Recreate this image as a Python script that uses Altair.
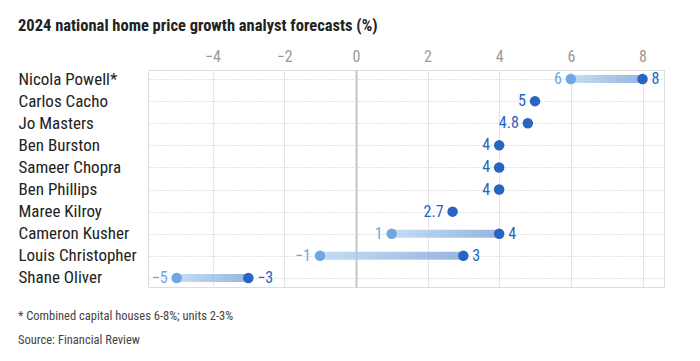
import altair as alt
import pandas as pd

names = ["Nicola Powell*", "Carlos Cacho", "Jo Masters", "Ben Burston", "Sameer Chopra",
         "Ben Phillips", "Maree Kilroy", "Cameron Kusher", "Louis Christopher", "Shane Oliver"]
low = [6, 5, 4.8, 4, 4, 4, 2.7, 1, -1, -5]
high = [8, 5, 4.8, 4, 4, 4, 2.7, 4, 3, -3]
x_ticks = [-4, -2, 0, 2, 4, 6, 8]
notes = ["* Combined capital houses 6-8%; units 2-3%", "Source: Financial Review"]

FONT = "'Liberation Sans Narrow', 'Roboto Condensed', 'Roboto', sans-serif"
DARK = "#2764c4"
LIGHT = "#6ea7e2"


def fmt(v):
    s = f"{v:g}"
    return s.replace("-", "\u2212")


df = pd.DataFrame({"name": names, "low": low, "high": high})
df["low_lbl"] = df["low"].map(fmt)
df["high_lbl"] = df["high"].map(fmt)
df["rng"] = df["low"] != df["high"]

W, H = 516, 217
xs = alt.Scale(domain=[-5.8, 8.6], nice=False, zero=False)
ys = alt.Scale(type="point", domain=names, padding=0.41)

base = alt.Chart(df)

yenc = alt.Y("name:N", scale=ys, title=None,
             axis=alt.Axis(labelAlign="left", labelPadding=130, ticks=False, tickSize=0,
                           domain=False, labelFontSize=17, labelColor="#222", labelFont=FONT,
                           grid=True, gridDash=[1, 2], gridColor="#c8c8c8", gridWidth=1))

bars = base.transform_filter("datum.rng").mark_bar(
    height=8, opacity=0.8,
    color=alt.Gradient(gradient="linear",
                       stops=[alt.GradientStop(color="#b6d4f2", offset=0),
                              alt.GradientStop(color="#7ea5d9", offset=1)],
                       x1=0, x2=1, y1=0, y2=0)
).encode(
    x=alt.X("low:Q", scale=xs, title=None,
            axis=alt.Axis(orient="top", values=x_ticks, ticks=False, domain=False,
                          labelFontSize=16, labelColor="#999", labelFont=FONT, labelPadding=6,
                          grid=True,
                          gridColor=alt.condition(alt.datum.value == 0, alt.value("#c4c4c4"), alt.value("#e4e4e4")),
                          gridWidth=alt.condition(alt.datum.value == 0, alt.value(2), alt.value(1)))),
    x2="high:Q",
    y=yenc,
)

low_dots = base.transform_filter("datum.rng").mark_circle(size=110, opacity=1, color=LIGHT).encode(
    x=alt.X("low:Q", scale=xs), y=alt.Y("name:N", scale=ys))
high_dots = base.mark_circle(size=110, opacity=1, color=DARK).encode(
    x=alt.X("high:Q", scale=xs), y=alt.Y("name:N", scale=ys))

low_txt = base.transform_filter("datum.rng").mark_text(
    align="right", dx=-9, fontSize=16, font=FONT, color=LIGHT, baseline="middle").encode(
    x=alt.X("low:Q", scale=xs), y=alt.Y("name:N", scale=ys), text="low_lbl:N")
high_txt = base.transform_filter("datum.rng").mark_text(
    align="left", dx=9, fontSize=16, font=FONT, color=DARK, baseline="middle").encode(
    x=alt.X("high:Q", scale=xs), y=alt.Y("name:N", scale=ys), text="high_lbl:N")
single_txt = base.transform_filter("!datum.rng").mark_text(
    align="right", dx=-9, fontSize=16, font=FONT, color=DARK, baseline="middle").encode(
    x=alt.X("high:Q", scale=xs), y=alt.Y("name:N", scale=ys), text="high_lbl:N")

notes_df = pd.DataFrame({"t": notes})
note_layers = []
for i, t in enumerate(notes):
    note_layers.append(
        alt.Chart(notes_df).transform_filter(alt.datum.t == t).mark_text(
            align="left", baseline="middle", fontSize=12.5, font=FONT, color="#444"
        ).encode(x=alt.value(-130), y=alt.value(H + 29 + 24 * i), text="t:N")
    )

chart = alt.layer(bars, low_dots, high_dots, low_txt, high_txt, single_txt, *note_layers).properties(
    width=W, height=H,
    padding={"left": 10, "top": 9, "right": 10, "bottom": 5},
    title=alt.TitleParams("2024 national home price growth analyst forecasts (%)",
                          anchor="start", fontSize=16.5, fontWeight="bold", font=FONT,
                          color="#222", offset=14),
).configure_view(stroke=None).configure(background="white")

chart.save("out.html", embed_options={"renderer": "svg", "actions": False})
